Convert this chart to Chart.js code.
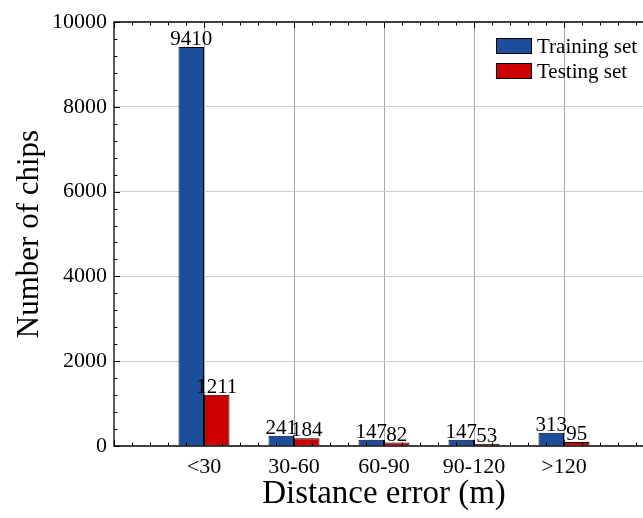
<!DOCTYPE html>
<html>
<head>
<meta charset="utf-8">
<title>Distance error distribution</title>
<script src="https://cdn.jsdelivr.net/npm/chart.js@4/dist/chart.umd.min.js"></script>
<style>
    html, body { margin: 0; padding: 0; overflow: hidden; background: #fff; }
    #chart { display: block; }
</style>
</head>
<body>
<canvas id="chart" width="654" height="518"></canvas>
<script>
// Chip counts per distance error bin
const categories = ['<30', '30-60', '60-90', '90-120', '>120'];
const trainingCounts = [9410, 241, 147, 147, 313];
const testingCounts = [1211, 184, 82, 53, 95];
const yTicks = [0, 2000, 4000, 6000, 8000, 10000];

const SERIF = "'Liberation Serif', 'Times New Roman', serif";
const BLUE = '#1c4e9b';
const RED = '#cc0000';

// Empty slot on each side so the bins sit one step in from the frame
const paddedLabels = [''].concat(categories, ['']);
const pad = arr => [null].concat(arr, [null]);

/**
 * Frame with inward major/minor ticks on left, top and bottom
 */
const frameTicks = {
    id: 'frameTicks',
    afterDatasetsDraw(chart) {
        const { ctx, chartArea: a, scales } = chart;
        const x = scales.x, y = scales.y;
        ctx.save();
        ctx.strokeStyle = '#000';
        ctx.lineWidth = 1.3;

        ctx.beginPath();
        ctx.moveTo(a.right, a.top);
        ctx.lineTo(a.left, a.top);
        ctx.lineTo(a.left, a.bottom);
        ctx.lineTo(a.right, a.bottom);
        ctx.stroke();

        ctx.lineWidth = 1;
        ctx.beginPath();
        // y ticks every 400, major every 2000
        for (let v = 0; v <= 10000; v += 400) {
            const py = Math.round(y.getPixelForValue(v)) + 0.5;
            const len = v % 2000 === 0 ? 6 : 3.5;
            ctx.moveTo(a.left, py);
            ctx.lineTo(a.left + len, py);
        }
        // x ticks every fifth of a bin
        for (let i = 0; i <= 30; i++) {
            const px = Math.round(x.getPixelForValue(i / 5)) + 0.5;
            const len = i % 5 === 0 ? 6 : 3.5;
            ctx.moveTo(px, a.top);
            ctx.lineTo(px, a.top + len);
            ctx.moveTo(px, a.bottom);
            ctx.lineTo(px, a.bottom - len);
        }
        ctx.stroke();
        ctx.restore();
    }
};

/**
 * Count printed above every bar
 */
const valueLabels = {
    id: 'valueLabels',
    afterDatasetsDraw(chart) {
        const ctx = chart.ctx;
        ctx.save();
        ctx.font = '21px ' + SERIF;
        ctx.fillStyle = '#000';
        ctx.textAlign = 'center';
        ctx.textBaseline = 'alphabetic';
        chart.data.datasets.forEach((ds, di) => {
            chart.getDatasetMeta(di).data.forEach((bar, i) => {
                const v = ds.data[i];
                if (v === null) return;
                ctx.fillText(String(v), bar.x, bar.y - 2);
            });
        });
        ctx.restore();
    }
};

/**
 * Legend in the upper right corner of the plot
 */
const cornerLegend = {
    id: 'cornerLegend',
    afterDraw(chart) {
        const { ctx, chartArea: a } = chart;
        const left = a.right - 158;
        ctx.save();
        ctx.font = '21px ' + SERIF;
        ctx.textBaseline = 'middle';
        ctx.textAlign = 'left';
        chart.data.datasets.forEach((ds, i) => {
            const cy = a.top + 24 + i * 25;
            ctx.fillStyle = ds.backgroundColor;
            ctx.fillRect(left, cy - 8, 36, 16);
            ctx.strokeStyle = '#000';
            ctx.lineWidth = 1;
            ctx.strokeRect(left + 0.5, cy - 7.5, 35, 15);
            ctx.fillStyle = '#000';
            ctx.fillText(ds.label, left + 41, cy + 1);
        });
        ctx.restore();
    }
};

new Chart(document.getElementById('chart'), {
    type: 'bar',
    data: {
        labels: paddedLabels,
        datasets: [
            {
                label: 'Training set',
                data: pad(trainingCounts),
                backgroundColor: BLUE,
                borderColor: '#000',
                borderWidth: 1,
                categoryPercentage: 0.567,
                barPercentage: 1
            },
            {
                label: 'Testing set',
                data: pad(testingCounts),
                backgroundColor: RED,
                borderColor: '#000',
                borderWidth: 1,
                categoryPercentage: 0.567,
                barPercentage: 1
            }
        ]
    },
    options: {
        responsive: false,
        animation: false,
        devicePixelRatio: 1,
        layout: { padding: { top: 22, right: 0, bottom: 0, left: 0 } },
        plugins: {
            legend: { display: false },
            tooltip: { enabled: false }
        },
        scales: {
            x: {
                type: 'category',
                offset: false,
                border: { display: false },
                grid: {
                    offset: false,
                    drawTicks: false,
                    lineWidth: 1,
                    color: ctx => (ctx.index === 0 ? 'rgba(0,0,0,0)' : '#a8a8a8')
                },
                ticks: {
                    autoSkip: false,
                    maxRotation: 0,
                    padding: 8,
                    color: '#000',
                    font: { family: SERIF, size: 22 }
                },
                title: {
                    display: true,
                    text: 'Distance error (m)',
                    color: '#000',
                    font: { family: SERIF, size: 33 },
                    padding: { top: 0, bottom: 4 }
                },
                afterFit: scale => {
                    scale.height = 72;
                    scale.paddingLeft = 0;
                    scale.paddingRight = 0;
                }
            },
            y: {
                min: 0,
                max: 10000,
                border: { display: false },
                grid: {
                    drawTicks: false,
                    lineWidth: 1,
                    color: ctx => {
                        const v = ctx.tick ? ctx.tick.value : 0;
                        return (v === 0 || v === 10000) ? 'rgba(0,0,0,0)' : '#cccccc';
                    }
                },
                afterBuildTicks: scale => {
                    scale.ticks = yTicks.map(v => ({ value: v }));
                },
                ticks: {
                    padding: 7,
                    color: '#000',
                    font: { family: SERIF, size: 22 },
                    callback: v => String(v)
                },
                title: {
                    display: true,
                    text: 'Number of chips',
                    color: '#000',
                    font: { family: SERIF, size: 31 },
                    padding: { top: 11, bottom: 0 }
                },
                afterFit: scale => {
                    scale.width = 114;
                    scale.paddingTop = 0;
                    scale.paddingBottom = 0;
                }
            }
        }
    },
    plugins: [frameTicks, valueLabels, cornerLegend]
});
</script>
</body>
</html>
